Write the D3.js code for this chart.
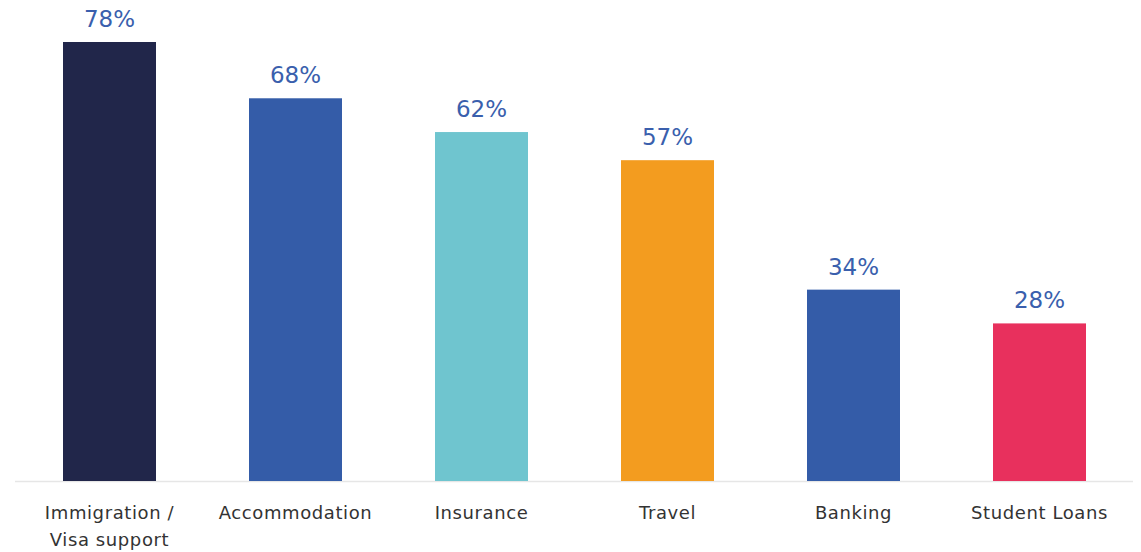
<!DOCTYPE html>
<html>
<head>
<meta charset="utf-8">
<script src="https://cdn.jsdelivr.net/npm/d3@7"></script>
<style>
  html, body { margin: 0; padding: 0; background: #fff; }
  svg { display: block; }
</style>
</head>
<body>
<svg id="chart" width="1141" height="552"></svg>
<script>
// Share of respondents needing support, by service area
const categories = ["Immigration / Visa support", "Accommodation", "Insurance", "Travel", "Banking", "Student Loans"];
const labelLines = [["Immigration /", "Visa support"], ["Accommodation"], ["Insurance"], ["Travel"], ["Banking"], ["Student Loans"]];
const values = [78, 68, 62, 57, 34, 28];
const barColors = ["#21264a", "#345ca8", "#6fc5cf", "#f39c1f", "#345ca8", "#e8305d"];

const svg = d3.select("#chart");
const font = "'DejaVu Sans', sans-serif";

const x = d3.scaleBand()
  .domain(categories)
  .range([16.5, 1132.5])
  .paddingInner(0.5)
  .paddingOuter(0.25);

const y = d3.scaleLinear()
  .domain([0, 78])
  .range([481, 42]);

// baseline
svg.append("line")
  .attr("x1", 15).attr("x2", 1133)
  .attr("y1", y(0) + 0.5).attr("y2", y(0) + 0.5)
  .attr("stroke", "#e6e6e6").attr("stroke-width", 1.5);

// bars
svg.selectAll("rect.bar")
  .data(categories)
  .join("rect")
  .attr("class", "bar")
  .attr("x", d => x(d))
  .attr("width", x.bandwidth())
  .attr("y", (d, i) => y(values[i]))
  .attr("height", (d, i) => y(0) - y(values[i]))
  .attr("fill", (d, i) => barColors[i]);

// value labels
svg.selectAll("text.value")
  .data(categories)
  .join("text")
  .attr("class", "value")
  .attr("x", d => x(d) + x.bandwidth() / 2)
  .attr("y", (d, i) => y(values[i]) - 15)
  .attr("text-anchor", "middle")
  .attr("font-family", font)
  .attr("font-size", 23)
  .attr("fill", "#3a5fad")
  .text((d, i) => values[i] + "%");

// category labels
const cat = svg.selectAll("text.cat")
  .data(categories)
  .join("text")
  .attr("class", "cat")
  .attr("text-anchor", "middle")
  .attr("font-family", font)
  .attr("font-size", 18)
  .attr("letter-spacing", 0.6)
  .attr("fill", "#333");

cat.each(function(d, i) {
  const t = d3.select(this);
  labelLines[i].forEach((line, j) => {
    t.append("tspan")
      .attr("x", x(d) + x.bandwidth() / 2)
      .attr("y", 519 + j * 27)
      .text(line);
  });
});
</script>
</body>
</html>
